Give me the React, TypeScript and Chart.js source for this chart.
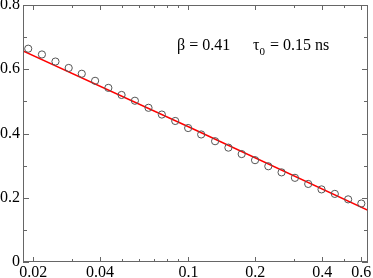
import React, { useEffect, useRef } from "react";
import { Chart, registerables } from "chart.js";

Chart.register(...registerables);

const X_DATA = [0.019, 0.0219, 0.0252, 0.0289, 0.0331, 0.038, 0.0436, 0.05, 0.0574, 0.0661, 0.0759, 0.0872, 0.0997, 0.1141, 0.1318, 0.1513, 0.1736, 0.1994, 0.2288, 0.2625, 0.3015, 0.346, 0.3972, 0.4559, 0.5234, 0.6];
const Y_DATA = [0.664, 0.646, 0.624, 0.604, 0.586, 0.564, 0.542, 0.52, 0.502, 0.48, 0.459, 0.439, 0.417, 0.397, 0.376, 0.356, 0.336, 0.317, 0.298, 0.279, 0.262, 0.243, 0.226, 0.212, 0.195, 0.182];
const FIT_X = [0.018, 0.1, 0.643];
const FIT_Y = [0.657, 0.421, 0.161];
const X_TICKS = [0.02, 0.03, 0.04, 0.05, 0.06, 0.07, 0.08, 0.09, 0.1, 0.2, 0.3, 0.4, 0.5, 0.6];
const X_LABELS = [0.02, 0.04, 0.1, 0.2, 0.4, 0.6];
const Y_TICKS = [0, 0.1, 0.2, 0.3, 0.4, 0.5, 0.6, 0.7, 0.8];
const Y_LABELS = [0, 0.2, 0.4, 0.6, 0.8];

const FONT = "'Liberation Serif', 'DejaVu Serif', serif";
const FRAME = "#666666";

const framePlugin = {
  id: "frameTicks",
  afterDraw(chart: any) {
    const { ctx, chartArea } = chart;
    const { left, right, top, bottom } = chartArea;
    const xs = chart.scales.x;
    const ys = chart.scales.y;
    ctx.save();
    ctx.strokeStyle = FRAME;
    ctx.lineWidth = 1;
    ctx.strokeRect(Math.round(left) + 0.5, Math.round(top) + 0.5, Math.round(right - left) - 1, Math.round(bottom - top) - 1);
    ctx.beginPath();
    X_TICKS.forEach((v) => {
      const px = Math.round(xs.getPixelForValue(v)) + 0.5;
      const len = X_LABELS.includes(v) ? 5 : 3;
      ctx.moveTo(px, bottom);
      ctx.lineTo(px, bottom - len);
      ctx.moveTo(px, top);
      ctx.lineTo(px, top + len);
    });
    Y_TICKS.forEach((v) => {
      const py = Math.round(ys.getPixelForValue(v)) + 0.5;
      const len = Y_LABELS.includes(v) ? 6 : 4;
      ctx.moveTo(left, py);
      ctx.lineTo(left + len, py);
      ctx.moveTo(right, py);
      ctx.lineTo(right - len, py);
    });
    ctx.stroke();

    // annotation
    ctx.fillStyle = "#000";
    ctx.textBaseline = "alphabetic";
    ctx.textAlign = "left";
    ctx.font = `16px ${FONT}`;
    const base = top + 45;
    let x = left + 154;
    ctx.fillText("\u03B2 = 0.41", x, base);
    x = left + 230;
    ctx.fillText("\u03C4", x, base);
    x += ctx.measureText("\u03C4").width;
    ctx.font = `11px ${FONT}`;
    ctx.fillText("0", x, base + 5);
    x += ctx.measureText("0").width + 1;
    ctx.font = `16px ${FONT}`;
    ctx.fillText(" = 0.15 ns", x, base);
    ctx.restore();
  },
};

const zeroPad = (s: any) => {
  s.paddingTop = 0;
  s.paddingBottom = 0;
  s.paddingLeft = 0;
  s.paddingRight = 0;
};

export default function App() {
  const ref = useRef<HTMLCanvasElement>(null);
  useEffect(() => {
    document.body.style.margin = "0";
    const canvas = ref.current!;
    const chart = new Chart(canvas, {
      type: "scatter",
      data: {
        datasets: [
          {
            label: "data",
            data: X_DATA.map((x, i) => ({ x, y: Y_DATA[i] })),
            pointStyle: "circle",
            pointRadius: 3.6,
            borderColor: "#555555",
            backgroundColor: "rgba(0,0,0,0)",
            borderWidth: 1,
            showLine: false,
          },
          {
            label: "fit",
            data: FIT_X.map((x, i) => ({ x, y: FIT_Y[i] })),
            showLine: true,
            pointRadius: 0,
            borderColor: "#ff0000",
            borderWidth: 1.5,
            backgroundColor: "#ff0000",
          },
        ],
      },
      options: {
        animation: false,
        responsive: false,
        devicePixelRatio: 1,
        layout: { padding: { top: 5, right: 4, left: 0, bottom: 0 } },
        plugins: { legend: { display: false }, tooltip: { enabled: false } },
        scales: {
          x: {
            type: "logarithmic",
            min: 0.018,
            max: 0.643,
            grid: { display: false, drawTicks: false },
            border: { display: false },
            afterBuildTicks: (s: any) => {
              s.ticks = X_TICKS.map((v) => ({ value: v }));
            },
            afterFit: (s: any) => {
              s.height = 16;
              zeroPad(s);
            },
            ticks: {
              autoSkip: false,
              maxRotation: 0,
              padding: 1,
              color: "#000",
              font: { family: FONT, size: 16 },
              callback: (v: any) => (X_LABELS.includes(Number(v)) ? String(v) : ""),
            },
          },
          y: {
            type: "linear",
            min: 0,
            max: 0.8,
            grid: { display: false, drawTicks: false },
            border: { display: false },
            afterBuildTicks: (s: any) => {
              s.ticks = Y_TICKS.map((v) => ({ value: v }));
            },
            afterFit: (s: any) => {
              s.width = 23;
              zeroPad(s);
            },
            ticks: {
              autoSkip: false,
              padding: 3,
              color: "#000",
              font: { family: FONT, size: 16 },
              callback: (v: any) => (Y_LABELS.includes(Number(v)) ? String(v) : ""),
            },
          },
        },
      },
      plugins: [framePlugin],
    });
    return () => chart.destroy();
  }, []);
  return <canvas ref={ref} width={373} height={278} style={{ display: "block" }} />;
}
